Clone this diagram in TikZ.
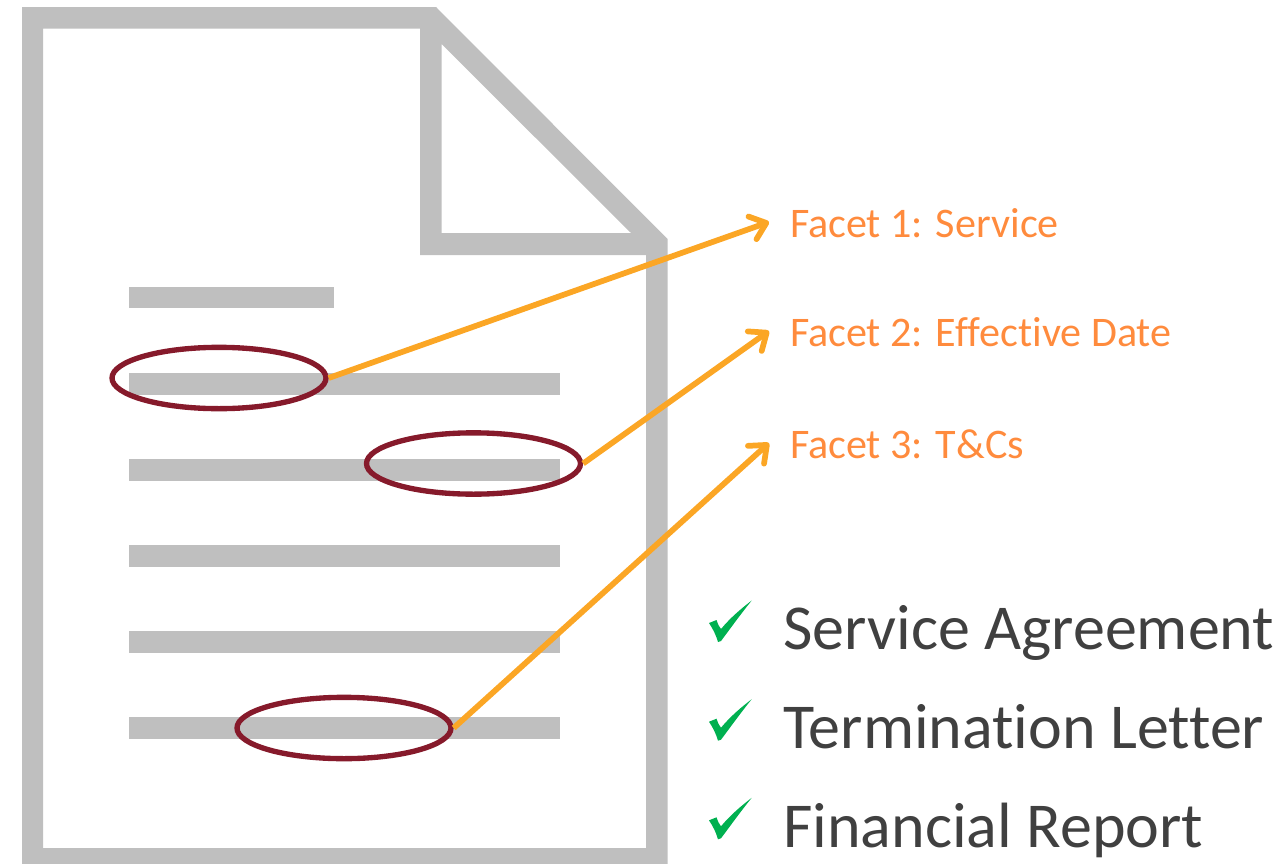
\documentclass[tikz,border=0pt]{standalone}
\usepackage{fontspec}
\setmainfont[Ligatures=NoCommon]{Carlito}
\usetikzlibrary{arrows.meta,positioning,shapes.geometric}

\begin{document}
\begin{tikzpicture}[
    x = 0.75pt, y = -0.75pt, % one unit is one pixel of the reference
    > = {Straight Barb[length=11pt,width=18pt,round]}, % arrow head style
    docpart/.style = {fill = docgray, draw = none},
    circled/.style = {ellipse, draw = circlered, line width = 4pt, inner sep = 0pt,
        minimum width = 160.5pt, minimum height = 46pt},
    link/.style = {->, draw = linkorange, line width = 4.3pt},
    facet/.style = {anchor = west, inner sep = 0pt, outer sep = 15.75pt, text = facetorange,
        font = \fontsize{31.6}{31.6}\selectfont, text height = 24pt, text depth = 1.5pt},
    item/.style = {inner sep = 0pt, text = itemgray,
        font = \fontsize{48}{48}\selectfont, text height = 48pt, text depth = 12pt},
    check/.pic = {
        \fill[checkgreen] (0,0) -- (7.5,-3) .. controls (9,1) and (10,4) .. (12,6)
            .. controls (22,-6) and (33,-15) .. (42.7,-22.5)
            .. controls (31,-8) and (21,6) .. (12,18)
            -- (9,19) .. controls (7,12) and (4,6) .. (0,0) -- cycle;
    }
    ]

    \definecolor{docgray}{HTML}{BFBFBF}
    \definecolor{circlered}{HTML}{861A2B}
    \definecolor{linkorange}{HTML}{FBA625}
    \definecolor{facetorange}{HTML}{FF8B3D}
    \definecolor{itemgray}{HTML}{404040}
    \definecolor{checkgreen}{HTML}{00B050}

    \useasboundingbox (0,0) rectangle (1286,864);

    % page with the folded corner
    \fill[docgray, even odd rule]
        (22,7) -- (436,7) -- (667.5,239) -- (667.5,864) -- (22,864) -- cycle
        (43,28.5) -- (420,28.5) -- (420,255) -- (646,255) -- (646,848) -- (43,848) -- cycle
        (441.5,44) -- (631,233) -- (441.5,233) -- cycle;

    % lines of text
    \fill[docpart] (129,287) rectangle (334,308);
    \foreach \y in {373,459,545,631,717}
        \fill[docpart] (129,\y) rectangle (560,\y+22);

    \node[circled] (c1) at (219,378) {};
    \node[circled] (c2) at (473.5,463.5) {};
    \node[circled] (c3) at (344,728) {};

    \node[facet] (f1) at (769,222) {Facet 1: Service};
    \node[facet] (f2) at (769,331) {Facet 2: Effective Date};
    \node[facet] (f3) at (769,443) {Facet 3: T\&Cs};

    \draw[link] (c1.east) -- (f1.west);
    \draw[link] (c2.east) -- (f2.west);
    \draw[link] (c3.east) -- (f3.west);

    \node[item, anchor = base west] (i1) at (783,649) {Service Agreement};
    \node[item] (i2) [below right = 13.9pt and 0pt of i1.south west] {Termination Letter};
    \node[item] (i3) [below right = 13.9pt and 0pt of i2.south west] {Financial Report};

    \foreach \y in {623,721.7,820.3}
        \pic at (709,\y) {check};
\end{tikzpicture}
\end{document}
